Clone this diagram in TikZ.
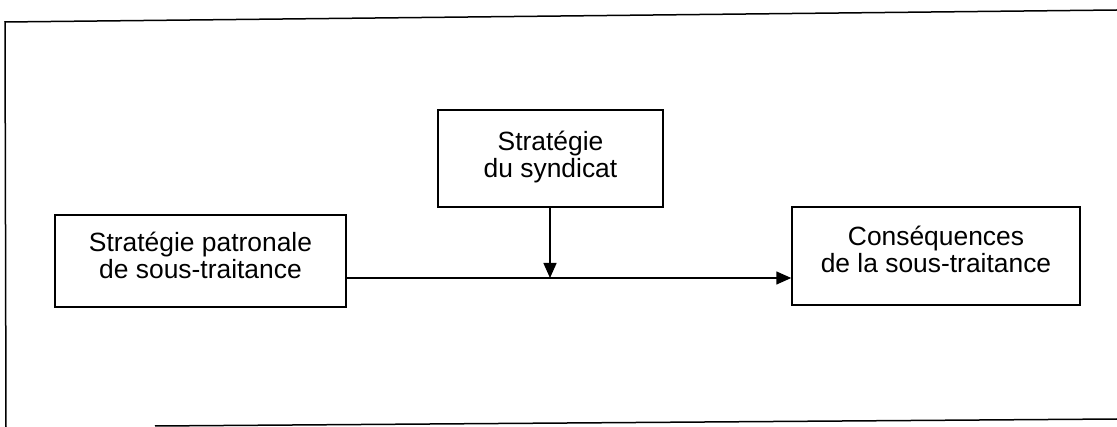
\documentclass[tikz,border=0pt]{standalone}
\usepackage{fontspec}
\setmainfont{Liberation Sans}
\usetikzlibrary{arrows.meta}
\newcommand{\boxtext}[2]{\raisebox{0pt}[\height][\dimexpr\depth+#1\relax]{\begin{tabular}{@{}c@{}}#2\end{tabular}}}
\begin{document}
\begin{tikzpicture}[x=1pt,y=-1pt,
  box/.style={draw, line width=1.5pt, inner sep=0pt,
    font=\fontsize{26.4}{27}\selectfont},
  conn/.style={line width=1.5pt},
  tip/.style={-{Triangle[length=15pt,width=13pt]}}]
\useasboundingbox (0,0) rectangle (1117,427);
% frame
\coordinate (f1) at (5,22);
\coordinate (f2) at (1117,10);
\coordinate (f3) at (6,427);
\coordinate (f4) at (155,426);
\coordinate (f5) at (1117,419);
\draw[line width=1.5pt] (f2) -- (f1) -- (f3);
\draw[line width=1.5pt] (f4) -- (f5);
% boxes
\node[box, minimum width=291pt, minimum height=92pt] (left) at (200.5,261) {\boxtext{4pt}{Stratégie patronale\\de sous-traitance}};
\node[box, minimum width=225pt, minimum height=97pt] (top) at (550.5,158.5) {\boxtext{0pt}{Stratégie\\du syndicat}};
\node[box, minimum width=288pt, minimum height=98pt] (right) at (936,256) {\boxtext{6pt}{Conséquences\\de la sous-traitance}};
\coordinate (j) at (550,278);
\draw[conn, tip] (left.east |- j) -- (right.west |- j);
\draw[conn, tip] (top.south -| j) -- (j);
\end{tikzpicture}
\end{document}
